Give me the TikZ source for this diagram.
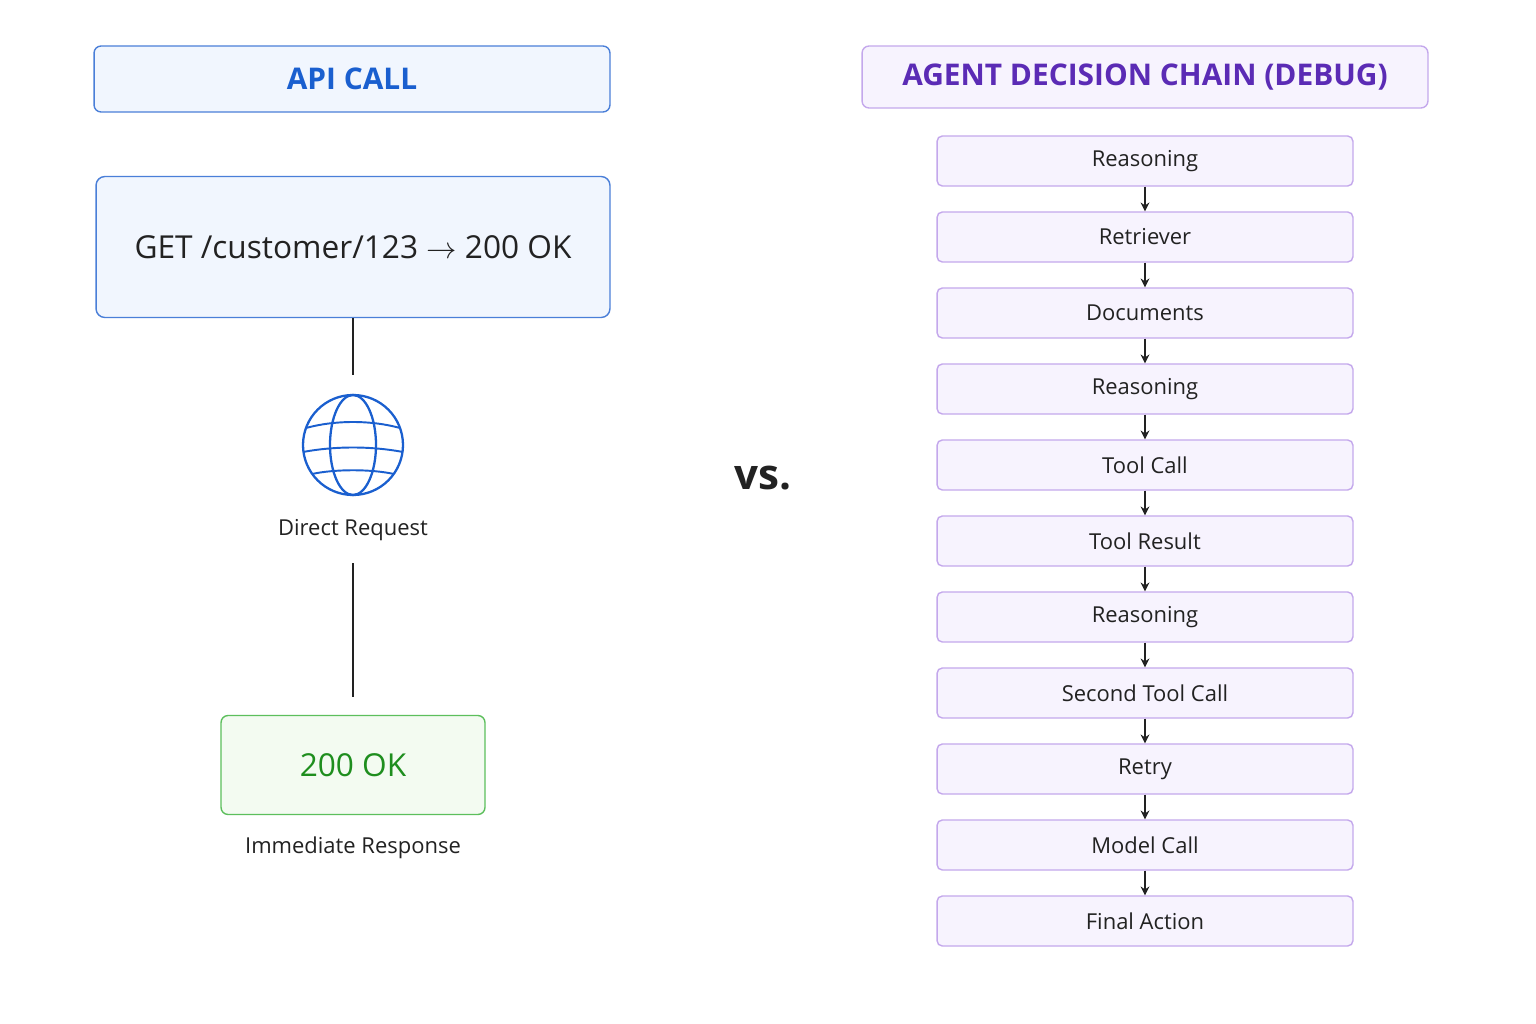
\documentclass[tikz,border=0pt]{standalone}
\usepackage{fontspec}
\setmainfont{Open Sans}
\usetikzlibrary{positioning,arrows.meta}
\definecolor{apiblue}{HTML}{4A7FD8}
\definecolor{apifill}{HTML}{F1F6FE}
\definecolor{apitext}{HTML}{1A5FCF}
\definecolor{agentpurple}{HTML}{C4A8EC}
\definecolor{agentfill}{HTML}{F7F3FE}
\definecolor{agenttext}{HTML}{5B2BB5}
\definecolor{okgreen}{HTML}{5CBF5C}
\definecolor{okfill}{HTML}{F3FBF1}
\definecolor{oktext}{HTML}{1E8E1E}
\definecolor{ink}{HTML}{222222}

\begin{document}
\begin{tikzpicture}[x=0.02cm, y=-0.02cm,
    header/.style={draw=apiblue, fill=apifill, rounded corners=4pt, line width=0.8pt, minimum width=10.32cm, minimum height=1.32cm, text=apitext, font=\fontsize{17}{20}\selectfont\bfseries},
    chainbox/.style={draw=agentpurple, fill=agentfill, rounded corners=3pt, line width=0.8pt, minimum width=8.32cm, minimum height=1cm, text=ink, font=\fontsize{12.5}{15}\selectfont},
    caption/.style={text=ink, font=\fontsize{12.5}{15}\selectfont},
    flow/.style={-{Stealth[length=5pt,width=5pt]}, ink, line width=0.8pt}]
    \useasboundingbox (0,0) rectangle (1536,1024);
    \fill[white] (0,0) rectangle (1536,1024);

    % left column
    \node[header] (apicall) at (352,79) {API CALL};
    \node[draw=apiblue, fill=apifill, rounded corners=5pt, line width=0.8pt, minimum width=10.28cm, minimum height=2.82cm, text=ink, font=\fontsize{18}{22}\selectfont] (request) at (353,247) {GET /customer/123 $\rightarrow$ 200 OK};
    \node[circle, minimum size=2cm, inner sep=0pt] (globe) at (353,445) {};
    \draw[apitext, line width=1.3pt] (globe) circle[radius=50];
    \draw[apitext, line width=1.3pt] (globe.center) ellipse[x radius=23, y radius=50];
    \draw[apitext, line width=1.1pt] (306,428) .. controls (335,420) and (371,420) .. (400,428);
    \draw[apitext, line width=1.1pt] (303,452) .. controls (335,446) and (371,446) .. (403,452);
    \draw[apitext, line width=1.1pt] (312,474) .. controls (335,469) and (371,469) .. (394,474);
    \node[caption] (direct) at (353,530) {Direct Request};
    \coordinate (linetop) at (353,375);
    \coordinate (linelow) at (353,563);
    \coordinate (lineend) at (353,697);
    \draw[ink, line width=0.9pt] (request.south) -- (linetop);
    \draw[ink, line width=0.9pt] (linelow) -- (lineend);
    \node[draw=okgreen, fill=okfill, rounded corners=4pt, line width=0.8pt, minimum width=5.28cm, minimum height=1.98cm, text=oktext, font=\fontsize{18}{22}\selectfont] (ok) at (353,765) {200 OK};
    \node[caption] (immediate) at (353,848) {Immediate Response};

    \node[text=ink, font=\fontsize{24}{28}\selectfont\bfseries] (vs) at (763,478) {vs.};

    % right column
    \node[header, draw=agentpurple, fill=agentfill, text=agenttext, minimum width=11.32cm, minimum height=1.24cm] (chain) at (1145,77) {AGENT DECISION CHAIN (DEBUG)};
    \foreach \steptext [count=\i] in {Reasoning, Retriever, Documents, Reasoning, Tool Call, Tool Result, Reasoning, Second Tool Call, Retry, Model Call, Final Action}
        \node[chainbox] (s\i) at (1145,{161+76*(\i-1)}) {\steptext};
    \foreach \i [evaluate=\i as \j using int(\i+1)] in {1,...,10}
        \draw[flow] (s\i) -- (s\j);
\end{tikzpicture}
\end{document}
